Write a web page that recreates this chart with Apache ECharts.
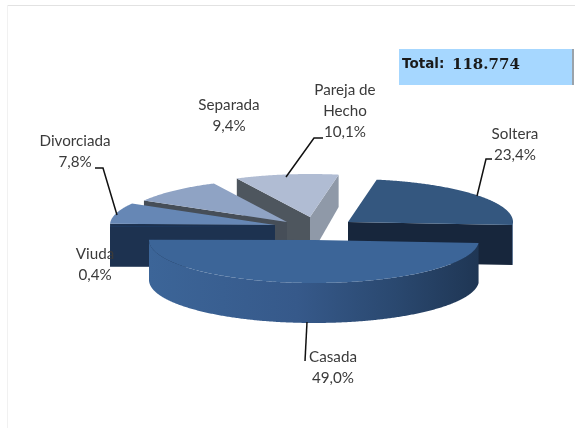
<!DOCTYPE html>
<html>
<head>
<meta charset="utf-8">
<style>html,body{margin:0;padding:0;background:#fff}#c{width:575px;height:428px}</style>
<script src="https://cdn.jsdelivr.net/npm/echarts@6/dist/echarts.min.js"></script>
</head>
<body>
<div id="c"></div>
<script>
// ---- data ----
const categories = ['Soltera', 'Casada', 'Viuda', 'Divorciada', 'Separada', 'Pareja de\nHecho'];
const values = [23.4, 49.0, 0.4, 7.8, 9.4, 10.1];
const valueLabels = ['23,4%', '49,0%', '0,4%', '7,8%', '9,4%', '10,1%'];
const totalLabel = 'Total:';
const totalValue = '118.774';

// ---- layout & style ----
const startAngle = 10, rx = 165, ry = 43, depth = 40;
const apexes = [[348, 222], [314, 240], [275, 227], [275, 225], [287, 222], [310, 217]];
const paintOrder = [5, 4, 3, 2, 0, 1];
const topColors = ['#34577f', '#3c6598', '#1d3a62', '#6687b5', '#8fa3c4', '#b0bcd3'];
const startFaceColors = ['#17263c', '#17263c', '#1d3250', '#1d3250', '#464e58', '#4e565e'];
const endFaceColors = ['#17263c', '#17263c', '#1d3250', '#1d3250', '#464e58', '#8f99a8'];
const labelCenters = [[515, 145], [333, 368], [95, 265], [75, 152], [229, 116], [345, 111]];
const leaders = [
  [[492, 159], [486, 159], [477, 196]],
  [[307, 322], [305, 361]],
  null,
  [[95, 168], [103, 168], [117, 215]],
  null,
  [[323, 138], [314, 138], [286, 177]]
];

const sum = values.reduce((a, b) => a + b, 0);
const angles = [];
let acc = startAngle;
values.forEach(v => { const a0 = acc; acc += v / sum * 360; angles.push([a0, acc]); });
const rad = d => d * Math.PI / 180;
const rim = (c, a) => [c[0] + rx * Math.sin(rad(a)), c[1] - ry * Math.cos(rad(a))];
// rear points look slightly shorter because of the perspective of the original
const drop = (p, c) => [p[0], p[1] + depth + Math.min(0, 0.18 * (p[1] - c[1]))];

function arc(c, a0, a1) {
  const pts = [], n = Math.max(2, Math.ceil((a1 - a0) * 2));
  for (let k = 0; k <= n; k++) pts.push(rim(c, a0 + (a1 - a0) * k / n));
  return pts;
}
function poly(points, fill, z2) {
  return { type: 'polygon', z2, shape: { points }, style: { fill } };
}
function renderItem(params, api) {
  const i = api.value(0);
  const c = apexes[i], [a0, a1] = angles[i];
  const rank = paintOrder.indexOf(i) * 10 + 1;
  const children = [];
  // radial cut faces turned to the viewer
  if (Math.cos(rad(a0 - 90)) < 0) {
    const r = rim(c, a0);
    children.push(poly([c, r, drop(r, c), drop(c, c)], startFaceColors[i], rank));
  }
  if (Math.cos(rad(a1 + 90)) < 0) {
    const r = rim(c, a1);
    children.push(poly([c, r, drop(r, c), drop(c, c)], endFaceColors[i], rank));
  }
  // outer wall (front half of the ellipse only)
  const w0 = Math.max(a0, 90), w1 = Math.min(a1, 270);
  if (w1 > w0) {
    const t = arc(c, w0, w1);
    const b = t.map(p => drop(p, c)).reverse();
    children.push(poly(t.concat(b), new echarts.graphic.LinearGradient(0, 0, 1, 0, [
      { offset: 0, color: '#3c6598' }, { offset: 0.45, color: '#36598a' },
      { offset: 0.75, color: '#2a486f' }, { offset: 1, color: '#1f3654' }
    ]), rank));
  }
  // top face
  children.push(poly([c].concat(arc(c, a0, a1)), topColors[i], rank + 1));
  // leader
  if (leaders[i]) {
    children.push({ type: 'polyline', z2: 100, shape: { points: leaders[i] },
      style: { fill: null, stroke: '#111', lineWidth: 1.5 } });
  }
  // label
  children.push({ type: 'text', z2: 101, x: labelCenters[i][0], y: labelCenters[i][1],
    style: { text: categories[i] + '\n' + valueLabels[i], align: 'center', verticalAlign: 'middle',
      font: '15.2px Lato', lineHeight: 21, fill: '#3a3a3a' } });
  return { type: 'group', children };
}

const chart = echarts.init(document.getElementById('c'), null, { renderer: 'canvas' });
chart.setOption({
  animation: false,
  backgroundColor: '#fff',
  graphic: [
    { type: 'line', shape: { x1: 7, y1: 5.5, x2: 575, y2: 5.5 }, style: { stroke: '#e2e2e2', lineWidth: 1 } },
    { type: 'line', shape: { x1: 7.5, y1: 5, x2: 7.5, y2: 428 }, style: { stroke: '#f1f1f1', lineWidth: 1 } },
    { type: 'rect', shape: { x: 399, y: 49, width: 174, height: 36 }, style: { fill: '#a6d7ff' } },
    { type: 'rect', shape: { x: 572, y: 49, width: 2, height: 36 }, style: { fill: '#9aa3ab' } },
    { type: 'text', x: 402, y: 64, z: 5, style: { text: totalLabel, verticalAlign: 'middle',
        font: 'bold 13.5px "DejaVu Sans"', fill: '#1a1a1a' } },
    { type: 'text', x: 452, y: 65, z: 5, style: { text: totalValue, verticalAlign: 'middle',
        font: 'bold 15px "DejaVu Serif"', fill: '#1a1a1a' } }
  ],
  series: [{
    type: 'custom',
    coordinateSystem: 'none',
    renderItem,
    silent: true,
    clip: false,
    data: values.map((v, i) => [i, v])
  }]
});
</script>
</body>
</html>
